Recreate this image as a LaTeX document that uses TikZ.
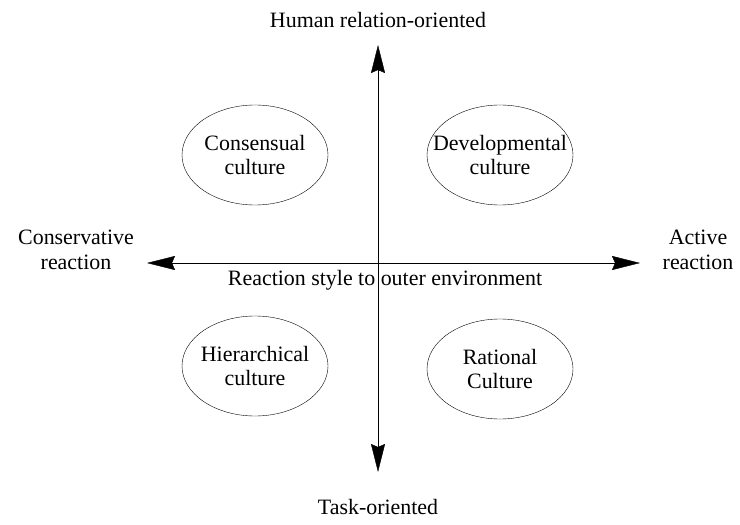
\documentclass[tikz,border=0pt]{standalone}
\usepackage{fontspec}
\setmainfont{Liberation Serif}
\usetikzlibrary{arrows.meta,shapes.geometric}
\tikzstyle{culture}=[ellipse, draw=black, thin, minimum width=146bp, minimum height=100bp, align=center, inner xsep=-30bp, inner ysep=0pt]
\tikzstyle{annot} = [align=center]
\tikzstyle{axis} = [thin, {Stealth[length=28bp,width=14bp,inset=3bp]}-{Stealth[length=28bp,width=14bp,inset=3bp]}]

\begin{document}
\begin{tikzpicture}[x=1bp, y=-1bp, font=\fontsize{22}{25}\selectfont]
	\useasboundingbox (0,0) rectangle (740,525);

	\coordinate (north) at (378,45);
	\coordinate (south) at (378,472);
	\coordinate (west) at (147,263);
	\coordinate (east) at (640,263);

	\draw[axis] (south) -- (north);
	\draw[axis] (west) -- (east);

	\node[culture](consensual) at (255,155){Consensual\\culture};
	\node[culture](developmental) at (500,155){Developmental\\culture};
	\node[culture](hierarchical) at (255,366){Hierarchical\\culture};
	\node[culture](rational) at (500,369){Rational\\Culture};

	\node[annot](human) at (378,20){Human relation-oriented};
	\node[annot](task) at (378,507){Task-oriented};
	\node[annot](conservative) at (76,250){Conservative\\reaction};
	\node[annot](active) at (698,250){Active\\reaction};
	\node[annot](style) at (385,280){Reaction style to outer environment};

\end{tikzpicture}
\end{document}
